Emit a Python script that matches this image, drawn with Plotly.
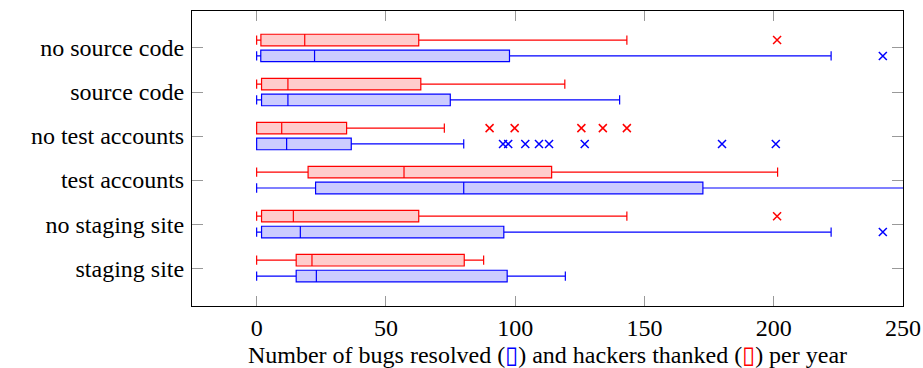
import plotly.graph_objects as go

categories = ["no source code", "source code", "no test accounts",
              "test accounts", "no staging site", "staging site"]

# bugs resolved (blue)
bugs_low = [0, 0, 0, 0, 0, 0]
bugs_q1 = [1.6, 1.9, 0, 22.8, 1.9, 15.3]
bugs_med = [22.4, 12.1, 11.6, 80.1, 16.9, 23.1]
bugs_q3 = [97.8, 74.9, 36.6, 172.6, 95.6, 96.9]
bugs_high = [222.2, 140.4, 80.1, 265, 222.2, 119.4]
bugs_out = [[242.2], [], [95.3, 97.3, 103.9, 109.2, 113.1, 126.9, 180.0, 200.8],
            [], [242.2], []]

# hackers thanked (red)
hack_low = [0, 0, 0, 0, 0, 0]
hack_q1 = [1.65, 1.9, 0, 19.9, 1.9, 15.3]
hack_med = [18.6, 12.1, 9.7, 57.0, 14.2, 21.4]
hack_q3 = [62.7, 63.5, 34.8, 114.1, 62.7, 80.3]
hack_high = [143.2, 119.2, 72.6, 201.5, 143.2, 87.8]
hack_out = [[201.3], [], [90.1, 99.8, 125.6, 133.9, 143.2], [], [201.3], []]

x_ticks = [0, 50, 100, 150, 200, 250]

FONT = "Liberation Serif"
FS = 24

fig = go.Figure()

def add_box(name, low, q1, med, q3, high, outs, line_col, fill_col):
    fig.add_trace(go.Box(
        name=name,
        orientation="h",
        y=categories,
        x=outs,
        q1=q1, median=med, q3=q3,
        lowerfence=low, upperfence=high,
        boxpoints="outliers",
        line=dict(color=line_col, width=1.2),
        fillcolor=fill_col,
        whiskerwidth=0.8,
        marker=dict(symbol="x-thin", size=8, color=line_col,
                    line=dict(color=line_col, width=1.5)),
        showlegend=False,
    ))

add_box("bugs", bugs_low, bugs_q1, bugs_med, bugs_q3, bugs_high, bugs_out,
        "#0000ff", "rgba(0,0,255,0.2)")
add_box("hackers", hack_low, hack_q1, hack_med, hack_q3, hack_high, hack_out,
        "#ff0000", "rgba(255,0,0,0.2)")

title = ("Number of bugs resolved (<span style='color:#0000ff'>▯</span>) "
         "and hackers thanked (<span style='color:#ff0000'>▯</span>) per year")

fig.update_layout(
    width=923, height=368,
    margin=dict(l=192, r=20, t=11, b=62),
    paper_bgcolor="white", plot_bgcolor="white",
    boxmode="group", boxgap=0.28, boxgroupgap=0.27,
    font=dict(family=FONT, size=FS, color="black"),
    xaxis=dict(
        range=[-25, 250], tickvals=x_ticks,
        ticks="inside", ticklen=10, tickcolor="#999999", tickwidth=1,
        showline=True, linecolor="black", linewidth=1, mirror="allticks",
        showgrid=False, zeroline=False, automargin=False,
        title=dict(text=title, standoff=6, font=dict(size=FS)),
        tickfont=dict(size=FS),
    ),
    yaxis=dict(
        type="category", automargin=False,
        categoryorder="array", categoryarray=categories[::-1],
        range=[-0.86, 5.84],
        ticks="inside", ticklen=11, tickcolor="#999999", tickwidth=1,
        showline=True, linecolor="black", linewidth=1, mirror="allticks",
        showgrid=False, zeroline=False, ticklabelstandoff=2,
        tickfont=dict(size=FS),
    ),
)

fig.write_html(
    "out.html",
    config={"displayModeBar": False},
    post_script="document.body.style.margin='0px';document.body.style.overflow='hidden';",
)
